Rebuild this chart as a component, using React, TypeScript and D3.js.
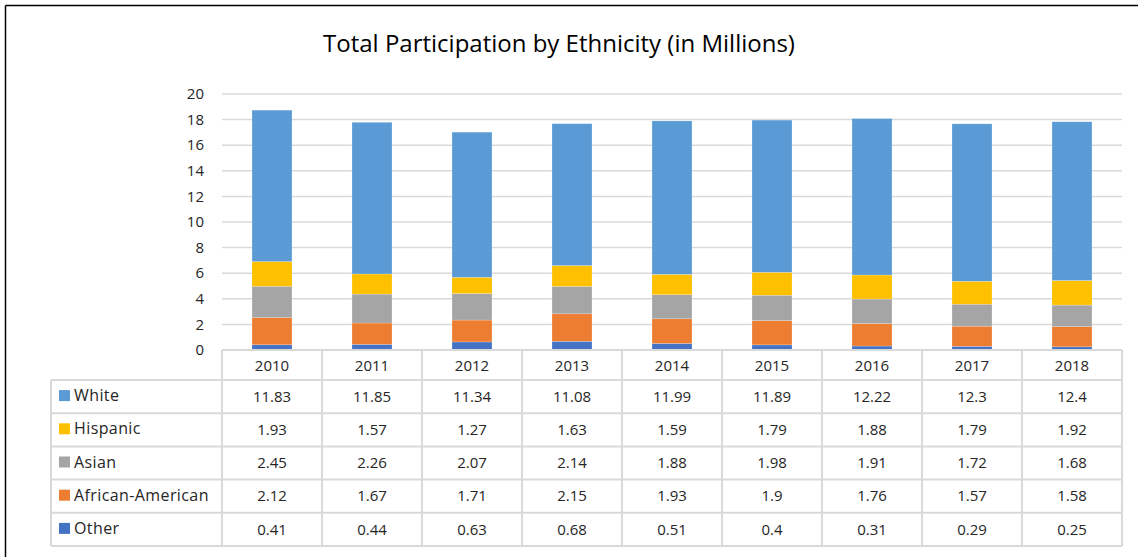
import React from "react";
import * as d3 from "d3";

const years = ["2010", "2011", "2012", "2013", "2014", "2015", "2016", "2017", "2018"];
const white = [11.83, 11.85, 11.34, 11.08, 11.99, 11.89, 12.22, 12.3, 12.4];
const hispanic = [1.93, 1.57, 1.27, 1.63, 1.59, 1.79, 1.88, 1.79, 1.92];
const asian = [2.45, 2.26, 2.07, 2.14, 1.88, 1.98, 1.91, 1.72, 1.68];
const africanAmerican = [2.12, 1.67, 1.71, 2.15, 1.93, 1.9, 1.76, 1.57, 1.58];
const other = [0.41, 0.44, 0.63, 0.68, 0.51, 0.4, 0.31, 0.29, 0.25];
const yTicks = [0, 2, 4, 6, 8, 10, 12, 14, 16, 18, 20];

const seriesNames = ["White", "Hispanic", "Asian", "African-American", "Other"];
const seriesValues = [white, hispanic, asian, africanAmerican, other];
const seriesColors = ["#5B9BD5", "#FFC000", "#A5A5A5", "#ED7D31", "#4472C4"];

const FONT = "'Open Sans', sans-serif";

export default function App() {
  const W = 1143, H = 557;
  const plotLeft = 222, plotRight = 1122, plotTop = 94, plotBottom = 350;
  const tableLeft = 51;
  const headerBottom = 380;
  const rowH = 33.2;

  const x = d3.scaleBand<string>().domain(years).range([plotLeft, plotRight]).paddingInner(0).paddingOuter(0);
  const y = d3.scaleLinear().domain([0, 20]).range([plotBottom, plotTop]);
  const barW = 40;

  const stackKeys = [4, 3, 2, 1, 0]; // bottom to top: Other, AA, Asian, Hispanic, White
  const rows = years.map((yr, i) => {
    const o: any = { year: yr };
    seriesNames.forEach((n, s) => (o[n] = seriesValues[s][i]));
    return o;
  });
  const stack = d3.stack<any>().keys(stackKeys.map((k) => seriesNames[k]));
  const stacked = stack(rows);

  const gridColor = "#D9D9D9";
  const textColor = "#262626";

  return (
    <svg width={W} height={H} style={{ position: "absolute", left: 0, top: 0, background: "#fff" }}>
      <rect x={0} y={0} width={W} height={H} fill="#fff" />
      {/* frame */}
      <line x1={5.5} y1={5.5} x2={1138} y2={5.5} stroke="#000" strokeWidth={1.5} />
      <line x1={5.5} y1={5.5} x2={5.5} y2={H} stroke="#000" strokeWidth={1.5} />

      <text x={559} y={52} textAnchor="middle" fontFamily={FONT} fontSize={24} fill="#000" fontWeight={500}>
        Total Participation by Ethnicity (in Millions)
      </text>

      {/* gridlines */}
      {yTicks.map((t) => (
        <g key={t}>
          {t !== 0 && (
            <line x1={plotLeft} x2={plotRight} y1={y(t)} y2={y(t)} stroke={gridColor} strokeWidth={1.5} />
          )}
          <text x={204} y={y(t)} dy="0.35em" textAnchor="end" fontFamily={FONT} fontSize={15} fill={textColor}>
            {t}
          </text>
        </g>
      ))}

      {/* bars */}
      {stacked.map((layer) => {
        const idx = seriesNames.indexOf(layer.key);
        return (
          <g key={layer.key}>
            {layer.map((d, i) => (
              <rect
                key={i}
                x={(x(years[i]) as number) + x.bandwidth() / 2 - barW / 2}
                y={y(d[1])}
                width={barW}
                height={y(d[0]) - y(d[1])}
                fill={seriesColors[idx]}
                stroke="#fff"
                strokeOpacity={0.35}
                strokeWidth={0.6}
              />
            ))}
          </g>
        );
      })}

      {/* table */}
      <line x1={plotLeft} x2={plotRight} y1={plotBottom} y2={plotBottom} stroke={gridColor} strokeWidth={2} />
      {d3.range(6).map((r) => (
        <line
          key={"h" + r}
          x1={tableLeft}
          x2={plotRight}
          y1={headerBottom + r * rowH}
          y2={headerBottom + r * rowH}
          stroke={gridColor}
          strokeWidth={2}
        />
      ))}
      <line x1={tableLeft} x2={tableLeft} y1={headerBottom} y2={headerBottom + 5 * rowH} stroke={gridColor} strokeWidth={2} />
      {d3.range(years.length + 1).map((c) => {
        const xx = plotLeft + c * x.bandwidth();
        return (
          <line key={"v" + c} x1={xx} x2={xx} y1={plotBottom} y2={headerBottom + 5 * rowH} stroke={gridColor} strokeWidth={2} />
        );
      })}
      {years.map((yr) => (
        <text
          key={yr}
          x={(x(yr) as number) + x.bandwidth() / 2}
          y={(plotBottom + headerBottom) / 2 + 1}
          dy="0.35em"
          textAnchor="middle"
          fontFamily={FONT}
          fontSize={15}
          fill={textColor}
        >
          {yr}
        </text>
      ))}
      {seriesNames.map((name, s) => {
        const cy = headerBottom + s * rowH + rowH / 2;
        return (
          <g key={name}>
            <rect x={59} y={cy - 6.5} width={11} height={11} fill={seriesColors[s]} />
            <text x={74} y={cy - 1} dy="0.35em" fontFamily={FONT} fontSize={16} letterSpacing={0.4} fill={textColor}>
              {name}
            </text>
            {seriesValues[s].map((v, i) => (
              <text
                key={i}
                x={(x(years[i]) as number) + x.bandwidth() / 2}
                y={cy}
                dy="0.35em"
                textAnchor="middle"
                fontFamily={FONT}
                fontSize={15}
                fill={textColor}
              >
                {String(v)}
              </text>
            ))}
          </g>
        );
      })}
    </svg>
  );
}
